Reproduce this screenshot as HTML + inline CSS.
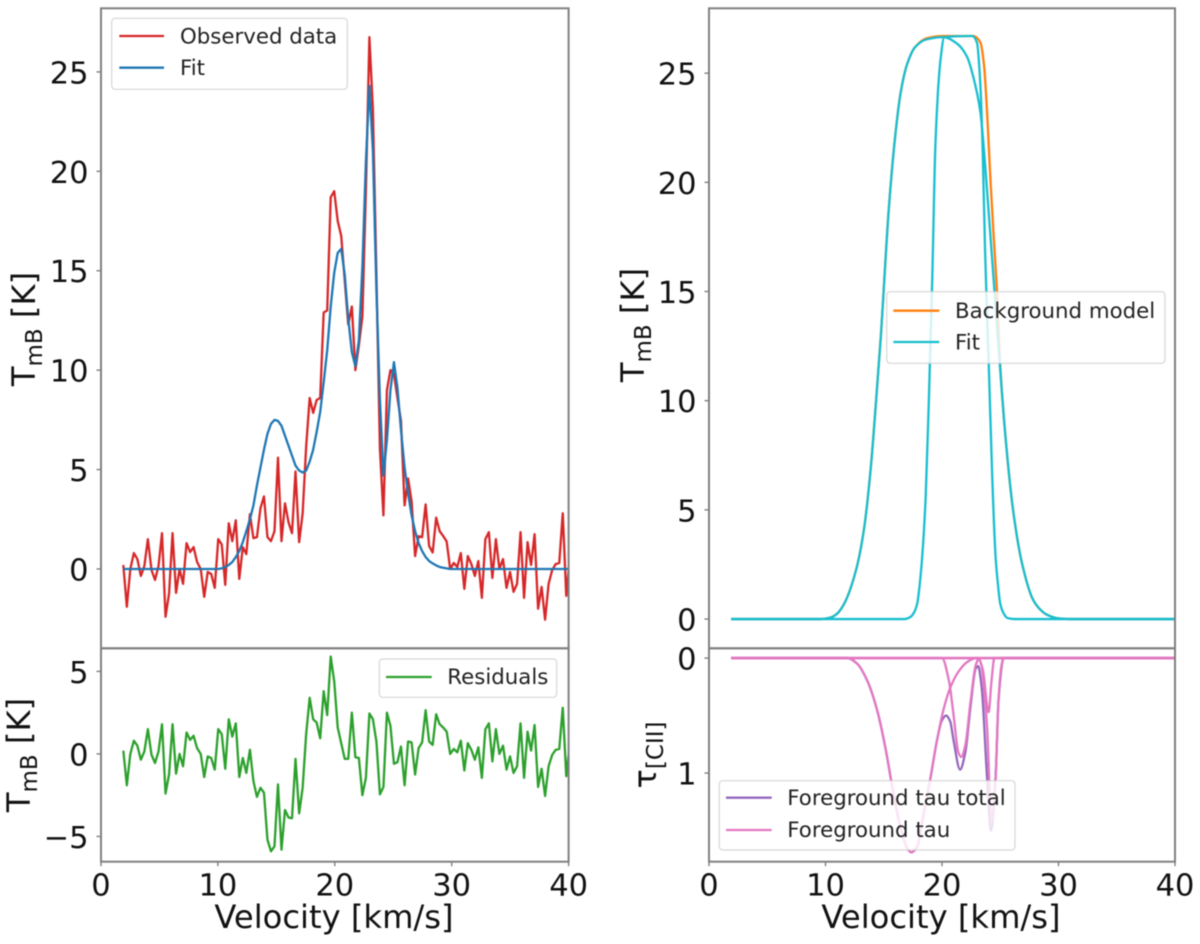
<!DOCTYPE html>
<html lang="en">
<head>
<meta charset="utf-8">
<title>Observed spectrum and foreground absorption fit</title>
<style>
  html, body { margin: 0; padding: 0; background: #fff; width: 1200px; height: 944px; overflow: hidden; }
  svg { display: block; filter: blur(0.55px); }
  text { font-family: "DejaVu Sans", "Liberation Sans", sans-serif; fill: #111; }
  .tick-label { font-size: 30.5px; }
  .axis-title { font-size: 32.2px; }
  .legend-text { font-size: 21.3px; fill: #222; }
  .spine { fill: none; stroke: #808080; stroke-width: 2; }
  .legend-box { fill: rgba(255,255,255,0.8); stroke: rgba(204,204,204,0.8); stroke-width: 1.2; }
  .mark { fill: none; stroke-width: 2.3; stroke-linejoin: round; }
</style>
</head>
<body>
<svg id="figure" width="1200" height="944" viewBox="0 0 1200 944" xmlns="http://www.w3.org/2000/svg">
  <defs>
    <clipPath id="clip-tl"><rect x="101" y="8" width="467.5" height="640.5"/></clipPath>
    <clipPath id="clip-bl"><rect x="101" y="649" width="467.5" height="212.7"/></clipPath>
    <clipPath id="clip-tr"><rect x="709" y="8" width="466" height="640"/></clipPath>
    <clipPath id="clip-br"><rect x="709" y="648" width="466" height="213.7"/></clipPath>
  </defs>

  <g id="marks-tl" clip-path="url(#clip-tl)"></g>
  <g id="marks-bl" clip-path="url(#clip-bl)"></g>
  <g id="marks-tr" clip-path="url(#clip-tr)"></g>
  <g id="marks-br" clip-path="url(#clip-br)"></g>

  <g id="ticks"></g>

  <rect class="spine" x="101" y="8.3" width="467.6" height="640"/>
  <rect class="spine" x="101" y="648.3" width="467.6" height="213.4"/>
  <rect class="spine" x="709" y="8.3" width="466" height="640"/>
  <rect class="spine" x="709" y="648.3" width="466" height="213.4"/>

  <g>
    <rect class="legend-box" x="111.7" y="18.3" width="235.6" height="71" rx="3.5"/>
    <line x1="119.3" x2="164" y1="36" y2="36" stroke="#d62728" stroke-width="2.3"/>
    <text class="legend-text" x="180" y="43.5">Observed data</text>
    <line x1="119.3" x2="164" y1="67.7" y2="67.7" stroke="#1f77b4" stroke-width="2.3"/>
    <text class="legend-text" x="180" y="75">Fit</text>
  </g>

  <g>
    <rect class="legend-box" x="379.3" y="659" width="177.4" height="38.3" rx="3.5"/>
    <line x1="386" x2="431.7" y1="677" y2="677" stroke="#2ca02c" stroke-width="2.3"/>
    <text class="legend-text" x="447.3" y="684">Residuals</text>
  </g>

  <g>
    <rect class="legend-box" x="886.7" y="291.7" width="278.3" height="71.6" rx="3.5"/>
    <line x1="893.3" x2="939.3" y1="310.7" y2="310.7" stroke="#ff7f0e" stroke-width="2.3"/>
    <text class="legend-text" x="955" y="318">Background model</text>
    <line x1="893.3" x2="939.3" y1="342" y2="342" stroke="#17becf" stroke-width="2.3"/>
    <text class="legend-text" x="955" y="349.5">Fit</text>
  </g>

  <g>
    <rect class="legend-box" x="719.3" y="780.7" width="295.7" height="69.3" rx="3.5"/>
    <line x1="726" x2="771.7" y1="797.7" y2="797.7" stroke="#9467bd" stroke-width="2.3"/>
    <text class="legend-text" x="787.3" y="805">Foreground tau total</text>
    <line x1="726" x2="771.7" y1="830" y2="830" stroke="#e377c2" stroke-width="2.3"/>
    <text class="legend-text" x="787.3" y="837">Foreground tau</text>
  </g>

  <text class="axis-title" x="334" y="928" text-anchor="middle">Velocity [km/s]</text>
  <text class="axis-title" x="941" y="928" text-anchor="middle">Velocity [km/s]</text>

  <text class="axis-title" text-anchor="middle" transform="translate(35,329) rotate(-90)">T<tspan font-size="23" dy="7">mB</tspan><tspan dy="-7"> [K]</tspan></text>
  <text class="axis-title" text-anchor="middle" transform="translate(30,755) rotate(-90)">T<tspan font-size="23" dy="7">mB</tspan><tspan dy="-7"> [K]</tspan></text>
  <text class="axis-title" text-anchor="middle" transform="translate(644,325) rotate(-90)">T<tspan font-size="23" dy="7">mB</tspan><tspan dy="-7"> [K]</tspan></text>
  <text class="axis-title" text-anchor="middle" transform="translate(656,755) rotate(-90)">τ<tspan font-size="23" dy="7">[CII]</tspan></text>
</svg>

<script>
// Left panels: channel velocities (km/s) and brightness temperatures (K)
var channelVelocity = [1.91,2.21,2.51,2.81,3.11,3.41,3.71,4.01,4.32,4.62,4.92,5.22,5.52,5.82,6.12,6.42,6.72,7.02,7.32,7.62,7.92,8.22,8.53,8.83,9.13,9.43,9.73,10.03,10.33,10.63,10.93,11.23,11.53,11.83,12.13,12.43,12.74,13.04,13.34,13.64,13.94,14.24,14.54,14.84,15.14,15.44,15.74,16.04,16.34,16.64,16.95,17.25,17.55,17.85,18.15,18.45,18.75,19.05,19.35,19.65,19.95,20.25,20.55,20.85,21.15,21.46,21.76,22.06,22.36,22.66,22.96,23.26,23.56,23.86,24.16,24.46,24.76,25.06,25.36,25.66,25.97,26.27,26.57,26.87,27.17,27.47,27.77,28.07,28.37,28.67,28.97,29.27,29.57,29.87,30.18,30.48,30.78,31.08,31.38,31.68,31.98,32.28,32.58,32.88,33.18,33.48,33.78,34.08,34.39,34.69,34.99,35.29,35.59,35.89,36.19,36.49,36.79,37.09,37.39,37.69,37.99,38.29,38.60,38.90,39.20,39.50,39.80,40.10];
var observedData = [0.2,-1.9,0,0.8,0.5,-0.35,0.15,1.5,-0.05,-0.55,0.15,1.8,-2.4,-1.25,1.8,-1.2,0,-0.75,1.3,0.85,1.1,0.35,0,-1.4,-0.15,-0.25,-0.95,1.5,1.23,-0.8,2.3,1.4,2.45,-0.5,1.1,0.75,2.75,1.55,1.6,3.05,3.65,1.6,1.4,1.9,5.6,1.4,3.3,2.35,1.8,4.9,1.35,2.8,6.15,8.6,7.85,8.5,8.6,12.9,13,18.7,19,17.5,16.75,14.5,12.3,13.2,10,11.25,12.7,19.05,26.75,23.1,14.75,6.05,2.7,9,10,9.8,8.6,7.45,3.2,4.55,3.4,0.65,1.65,1.6,3.25,1.15,0.83,2.58,1.9,1.66,1.38,0,0.3,0.1,0.8,-1,0.65,0.25,-0.35,0.4,-1.45,1.5,1.85,-0.45,1.5,0,0.5,-0.95,-0.15,-1.15,-0.75,1.85,-1.45,1.35,0.2,1.75,-2,-0.9,-2.55,-0.75,-0.05,0.25,0.3,2.8,-1.35,0.6];
var fitData = [0,0,0,0,0,0,0,0,0,0,0,0,0,0,0,0,0,0,0,0,0,0,0,0,0,0,0,0,0.03,0.1,0.2,0.35,0.6,0.9,1.35,1.9,2.5,3.2,4.2,5.1,6,6.8,7.3,7.5,7.45,7.2,6.7,6.2,5.7,5.2,4.95,4.85,4.95,5.4,6,6.9,7.9,9.4,11,13.2,14.9,15.9,16.1,14.8,12.6,10.9,10.2,11.5,15.2,20.5,24.3,21,14,8.5,4.7,6.5,9,10.4,9.1,7,5.1,3.8,2.7,1.9,1.3,0.9,0.6,0.4,0.28,0.18,0.1,0.06,0.03,0,0,0,0,0,0,0,0,0,0,0,0,0,0,0,0,0,0,0,0,0,0,0,0,0,0,0,0,0,0,0,0,0,0,0];
var residualData = [0.2,-1.9,0,0.8,0.5,-0.35,0.15,1.5,-0.05,-0.55,0.15,1.8,-2.4,-1.25,1.8,-1.2,0,-0.75,1.3,0.85,1.1,0.35,0,-1.4,-0.15,-0.25,-0.95,1.5,1.2,-0.9,2.1,1.05,1.85,-1.4,-0.25,-1.15,0.25,-1.65,-2.6,-2.05,-2.35,-5.2,-5.9,-5.6,-1.85,-5.8,-3.4,-3.85,-3.9,-0.3,-3.6,-2.05,1.2,3.4,2.1,1.9,0.95,3.8,2.35,5.9,4.4,1.6,0.65,-0.3,-0.3,2.5,-0.2,-0.25,-2.5,-1.45,2.45,2.1,0.75,-2.45,-2,2.5,1.7,-0.6,-0.5,0.45,-1.9,0.75,0.7,-1.25,0.35,0.7,2.65,0.75,0.55,2.4,1.8,1.6,1.35,0,0.3,0.1,0.8,-1,0.65,0.25,-0.35,0.4,-1.45,1.5,1.85,-0.45,1.5,0,0.5,-0.95,-0.15,-1.15,-0.75,1.85,-1.45,1.35,0.2,1.75,-2,-0.9,-2.55,-0.75,-0.05,0.25,0.3,2.8,-1.35,0.6];

// Top-right panel: background model and the two fit profiles
var backgroundVelocity = [1.9,9.5,10,10.45,11,11.6,12.6,13.3,13.9,14.3,14.73,15.45,16,16.45,17,17.7,18.7,20.1,22.7,23.3,23.6,23.87,24.15,24.44,24.7,25,25.44,26.1,26.87,27.85,28.5,29,30,31,40];
var backgroundValues = [0,0,0.02,0.07,0.25,0.7,2.2,4.1,7,9.7,12.8,18.9,22.2,24.1,25.4,26.2,26.6,26.7,26.7,26.4,25.4,23.2,20.2,17.5,15.2,11.6,8.4,5,2.55,0.85,0.4,0.2,0.03,0,0];
var broadFitVelocity = [1.9,9.5,10,10.45,11,11.6,12.6,13.3,13.9,14.3,14.73,15.45,16,16.45,17,17.7,18.7,20.1,21.3,22.15,22.7,23.3,23.7,24.15,24.7,25,25.44,26.1,26.87,27.85,28.5,29,30,31,40];
var broadFitValues = [0,0,0.02,0.07,0.25,0.7,2.2,4.1,7,9.7,12.8,18.9,22.2,24.1,25.4,26.2,26.55,26.65,26.35,25.75,24.8,23.2,20.8,17.6,13.6,11.4,8.4,5,2.55,0.85,0.4,0.2,0.03,0,0];
var narrowFitVelocity = [1.9,16.8,17.3,17.6,17.87,18.05,18.3,18.6,18.87,19.16,19.44,19.87,20.2,22.6,23,23.3,23.5,23.7,23.9,24,24.3,24.6,24.8,25,25.3,25.6,26.2,40];
var narrowFitValues = [0,0,0.1,0.3,0.7,1.4,2.85,5.6,10,15.5,21.8,25.6,26.65,26.7,26.4,24.4,21.3,16.8,13.4,11.9,6.7,2.85,1.6,0.7,0.25,0.05,0,0];

// Bottom-right panel: optical depth components and their total
var tauBroadVelocity = [1.9,11.9,12.73,13.6,14.45,15.16,15.7,16.45,17,17.36,17.87,18.4,19,19.6,20.15,20.7,21.4,22.15,22.9,40];
var tauBroadValues = [0,0,0.05,0.2,0.46,0.79,1.1,1.48,1.65,1.69,1.64,1.37,1.05,0.7,0.44,0.26,0.12,0.035,0,0];
var tauMiddleVelocity = [1.9,20,20.6,21,21.4,21.65,22,22.45,22.9,23.2,40];
var tauMiddleValues = [0,0,0.2,0.5,0.82,0.86,0.76,0.38,0.06,0,0];
var tauSmallVelocity = [1.9,23.1,23.5,24,24.25,24.5,40];
var tauSmallValues = [0,0,0.1,0.47,0.2,0,0];
var tauNarrowVelocity = [1.9,23.1,23.4,23.7,23.87,24.25,24.6,24.85,25.1,25.3,40];
var tauNarrowValues = [0,0,0.07,0.37,0.6,1.42,1.04,0.37,0.07,0,0];
var tauTotalVelocity = [1.9,11.9,12.73,13.6,14.45,15.16,15.7,16.45,17,17.36,17.87,18.4,19,19.6,20,20.35,20.7,21,21.55,22,22.45,22.9,23.1,23.4,23.87,24.2,24.6,24.85,25.3,40];
var tauTotalValues = [0,0,0.05,0.2,0.46,0.79,1.1,1.48,1.65,1.69,1.64,1.37,1.05,0.7,0.54,0.5,0.55,0.72,0.97,0.82,0.42,0.09,0.07,0.25,1.04,1.5,1.04,0.37,0,0];

// Tick values and labels
var velocityTicks = [0,10,20,30,40];
var spectrumTicks = [0,5,10,15,20,25];
var residualTicks = [-5,0,5];
var tauTicks = [0,1];

var SVG_NS = 'http://www.w3.org/2000/svg';

function makeAxis(pxLo, pxHi, domLo, domHi) {
  return function (value) {
    return pxLo + (value - domLo) / (domHi - domLo) * (pxHi - pxLo);
  };
}

var xLeft = makeAxis(101, 568.6, 0, 40);
var xRight = makeAxis(709, 1175, 0, 40);
var ySpectrum = makeAxis(648.3, 8.3, -3.99, 28.2);
var yResidual = makeAxis(861.7, 648.3, -6.53, 6.4);
var yBackground = makeAxis(648.3, 8.3, -1.34, 27.97);
var yTau = makeAxis(648.3, 861.7, -0.085, 1.771);

function polylinePath(xs, ys, xAxis, yAxis) {
  var d = '';
  for (var i = 0; i < xs.length; i++) {
    d += (i ? 'L' : 'M') + xAxis(xs[i]).toFixed(2) + ' ' + yAxis(ys[i]).toFixed(2);
  }
  return d;
}

// Monotone cubic path through the read-off points, so sparse readings draw as smooth profiles.
function smoothPath(xs, ys, xAxis, yAxis) {
  var px = xs.map(xAxis);
  var py = ys.map(yAxis);
  var n = px.length;
  var slopes = [];
  var tangents = [];
  for (var i = 0; i < n - 1; i++) {
    slopes.push((py[i + 1] - py[i]) / (px[i + 1] - px[i]));
  }
  tangents.push(0);
  for (var j = 1; j < n - 1; j++) {
    if (slopes[j - 1] * slopes[j] <= 0) {
      tangents.push(0);
    } else {
      var w1 = 2 * (px[j + 1] - px[j]) + (px[j] - px[j - 1]);
      var w2 = (px[j + 1] - px[j]) + 2 * (px[j] - px[j - 1]);
      tangents.push((w1 + w2) / (w1 / slopes[j - 1] + w2 / slopes[j]));
    }
  }
  tangents.push(0);
  var d = 'M' + px[0].toFixed(2) + ' ' + py[0].toFixed(2);
  for (var k = 0; k < n - 1; k++) {
    var h = (px[k + 1] - px[k]) / 3;
    d += 'C' + (px[k] + h).toFixed(2) + ' ' + (py[k] + tangents[k] * h).toFixed(2) + ' ' +
         (px[k + 1] - h).toFixed(2) + ' ' + (py[k + 1] - tangents[k + 1] * h).toFixed(2) + ' ' +
         px[k + 1].toFixed(2) + ' ' + py[k + 1].toFixed(2);
  }
  return d;
}

function addLine(groupId, d, colour, name) {
  var el = document.createElementNS(SVG_NS, 'path');
  el.setAttribute('class', 'mark');
  el.setAttribute('d', d);
  el.setAttribute('stroke', colour);
  
  
  document.getElementById(groupId).appendChild(el);
}

function addXTicks(xAxis, yBase, prefix) {
  var group = document.getElementById('ticks');
  velocityTicks.forEach(function (value) {
    var mark = document.createElementNS(SVG_NS, 'line');
    mark.setAttribute('x1', xAxis(value));
    mark.setAttribute('x2', xAxis(value));
    mark.setAttribute('y1', yBase);
    mark.setAttribute('y2', yBase + 4.5);
    mark.setAttribute('stroke', '#777');
    mark.setAttribute('stroke-width', '1.3');
    
    
    group.appendChild(mark);
    var label = document.createElementNS(SVG_NS, 'text');
    label.setAttribute('class', 'tick-label');
    label.setAttribute('x', xAxis(value));
    label.setAttribute('y', yBase + 34);
    label.setAttribute('text-anchor', 'middle');
    label.textContent = String(value);
    
    
    group.appendChild(label);
  });
}

function addYTicks(values, yAxis, xBase, prefix) {
  var group = document.getElementById('ticks');
  values.forEach(function (value) {
    var mark = document.createElementNS(SVG_NS, 'line');
    mark.setAttribute('x1', xBase - 4.5);
    mark.setAttribute('x2', xBase);
    mark.setAttribute('y1', yAxis(value));
    mark.setAttribute('y2', yAxis(value));
    mark.setAttribute('stroke', '#777');
    mark.setAttribute('stroke-width', '1.3');
    
    
    group.appendChild(mark);
    var label = document.createElementNS(SVG_NS, 'text');
    label.setAttribute('class', 'tick-label');
    label.setAttribute('x', xBase - 12.5);
    label.setAttribute('y', yAxis(value) + 11.5);
    label.setAttribute('text-anchor', 'end');
    label.textContent = String(value).replace('-', '\u2212');
    
    
    group.appendChild(label);
  });
}

addLine('marks-tl', polylinePath(channelVelocity, observedData, xLeft, ySpectrum), '#d62728', 'observed-data-line');
addLine('marks-tl', polylinePath(channelVelocity, fitData, xLeft, ySpectrum), '#1f77b4', 'fit-line');
addLine('marks-bl', polylinePath(channelVelocity, residualData, xLeft, yResidual), '#2ca02c', 'residuals-line');

addLine('marks-tr', smoothPath(backgroundVelocity, backgroundValues, xRight, yBackground), '#ff7f0e', 'background-model-line');
addLine('marks-tr', smoothPath(broadFitVelocity, broadFitValues, xRight, yBackground), '#17becf', 'model-fit-broad-line');
addLine('marks-tr', smoothPath(narrowFitVelocity, narrowFitValues, xRight, yBackground), '#17becf', 'model-fit-narrow-line');

addLine('marks-br', smoothPath(tauTotalVelocity, tauTotalValues, xRight, yTau), '#9467bd', 'foreground-tau-total-line');
addLine('marks-br', smoothPath(tauBroadVelocity, tauBroadValues, xRight, yTau), '#e377c2', 'foreground-tau-broad-line');
addLine('marks-br', smoothPath(tauMiddleVelocity, tauMiddleValues, xRight, yTau), '#e377c2', 'foreground-tau-middle-line');
addLine('marks-br', smoothPath(tauSmallVelocity, tauSmallValues, xRight, yTau), '#e377c2', 'foreground-tau-small-line');
addLine('marks-br', smoothPath(tauNarrowVelocity, tauNarrowValues, xRight, yTau), '#e377c2', 'foreground-tau-narrow-line');

addXTicks(xLeft, 861.7, 'residual');
addXTicks(xRight, 861.7, 'tau');
addYTicks(spectrumTicks, ySpectrum, 101, 'spectrum');
addYTicks(residualTicks, yResidual, 101, 'residual');
addYTicks(spectrumTicks, yBackground, 709, 'background');
addYTicks(tauTicks, yTau, 709, 'tau');
</script>
</body>
</html>
